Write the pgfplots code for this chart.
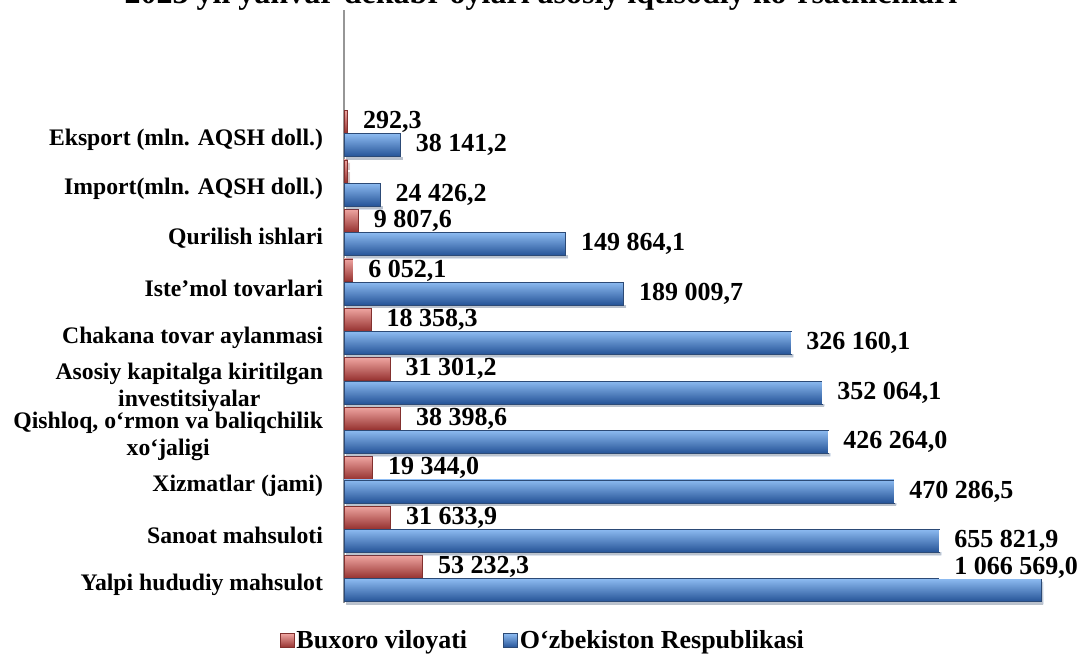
\documentclass[border=0pt]{standalone}
\usepackage{fontspec}
\setmainfont{Liberation Serif}
\usepackage{pgfplots}
\usepackage{pgfplotstable}
\pgfplotsset{compat=1.18}
\definecolor{blueT}{RGB}{140,186,240}
\definecolor{blueM}{RGB}{70,128,208}
\definecolor{blueB}{RGB}{36,82,150}
\definecolor{blueD}{RGB}{44,74,118}
\definecolor{redT}{RGB}{238,164,160}
\definecolor{redM}{RGB}{200,84,80}
\definecolor{redB}{RGB}{148,48,46}
\definecolor{redD}{RGB}{130,48,46}
\definecolor{axgray}{RGB}{150,150,150}

\pgfplotstableread[col sep=semicolon]{
i;red;redl;blue;bluel
0;53232.3;53 232,3;471000;1 066 569,0
1;31633.9;31 633,9;402000;655 821,9
2;19344.0;19 344,0;371600;470 286,5
3;38398.6;38 398,6;327000;426 264,0
4;31301.2;31 301,2;323000;352 064,1
5;18358.3;18 358,3;302000;326 160,1
6;6052.1;6 052,1;189009.7;189 009,7
7;9807.6;9 807,6;149864.1;149 864,1
8;2500;;24426.2;24 426,2
9;2500;292,3;38141.2;38 141,2
}\data

\pgfplotsset{
  redstyle/.style={draw=redD, line width=0.4pt, top color=redT, middle color=redM, bottom color=redB},
  bluestyle/.style={draw=blueD, line width=0.4pt, top color=blueT, middle color=blueM, bottom color=blueB},
  barshadow/.style={preaction={fill=black, fill opacity=0.16, draw=none, transform canvas={xshift=1.2pt, yshift=-1.4pt}}},
  onlyrow/.style={x filter/.expression={\coordindex==#1 ? x : nan}},
}

\begin{document}
\begin{tikzpicture}
\begin{axis}[
  at={(172pt,29pt)}, anchor=south west,
  scale only axis, width=350pt, height=296.5pt,
  xbar, bar width=0.465,
  xmin=0, xmax=473000, ymin=-0.49, ymax=11.5,
  axis x line=none, axis y line*=left,
  y axis line style={draw=axgray, line width=1.1pt},
  xtick=\empty, scaled x ticks=false,
  ytick={0,...,9},
  yticklabels={Yalpi hududiy mahsulot, Sanoat mahsuloti, Xizmatlar (jami),
    {Qishloq, o‘rmon va baliqchilik\\xo‘jaligi},
    {Asosiy kapitalga kiritilgan\\investitsiyalar},
    Chakana tovar aylanmasi, Iste’mol tovarlari, Qurilish ishlari,
    Import(mln. AQSH doll.), Eksport (mln. AQSH doll.)},
  major tick length=0pt,
  yticklabel style={font=\fontsize{11.85}{13.5}\selectfont\bfseries, align=center, xshift=-7pt, yshift=-3pt},
  clip=false,
  point meta=explicit symbolic,
  nodes near coords,
  nodes near coords style={font=\fontsize{13}{15}\selectfont\bfseries, fill=white, inner xsep=7.5pt, inner ysep=0.3pt, anchor=west, text=black},
  legend style={at={(axis description cs:0.284,-0.064)}, anchor=center, draw=none,
    font=\fontsize{13}{15}\selectfont\bfseries, legend columns=2,
    nodes={inner xsep=1pt},
    /tikz/every even column/.append style={column sep=17pt}},
  legend image code/.code={\draw[#1] (0pt,-3.4pt) rectangle (7pt,3.6pt);},
]
\addlegendimage{redstyle}
\addlegendentry{Buxoro viloyati}
\addlegendimage{bluestyle}
\addlegendentry{O‘zbekiston Respublikasi}
\pgfplotsinvokeforeach{0,...,9}{
  \addplot[forget plot, xbar, bar shift=0.235, redstyle, barshadow, onlyrow=#1]
    table[x=red, y=i, meta=redl] {\data};
}
\pgfplotsinvokeforeach{1,...,9}{
  \addplot[forget plot, xbar, bar shift=-0.235, bluestyle, barshadow, onlyrow=#1]
    table[x=blue, y=i, meta=bluel] {\data};
}
\addplot[forget plot, xbar, bar shift=-0.235, bluestyle, barshadow, onlyrow=0,
  nodes near coords style={xshift=-51pt, yshift=11.25pt}]
  table[x=blue, y=i, meta=bluel] {\data};
\end{axis}
\node[font=\fontsize{16}{19}\selectfont\bfseries, anchor=base] at (270.5pt,329pt) {2023 yil yanvar-dekabr oylari asosiy iqtisodiy ko‘rsatkichlari};
\pgfresetboundingbox
\useasboundingbox (0,0) rectangle (541pt,330.5pt);
\end{tikzpicture}
\end{document}
